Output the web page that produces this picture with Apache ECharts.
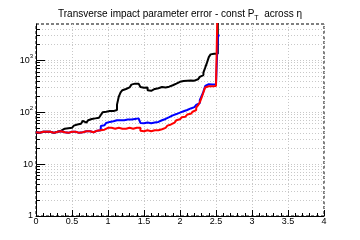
<!DOCTYPE html>
<html><head><meta charset="utf-8">
<script src="https://cdn.jsdelivr.net/npm/echarts@6/dist/echarts.min.js"></script>
<style>html,body{margin:0;padding:0;background:#fff}#c{width:360px;height:240px}</style>
</head><body><div id="c"></div>
<script>
const binWidth = 0.025;
const xTicks = [0, 0.5, 1, 1.5, 2, 2.5, 3, 3.5, 4];
const yMajor = [1, 10, 100, 1000];
const yMinor = [2,3,4,5,6,7,8,9,20,30,40,50,60,70,80,90,200,300,400,500,600,700,800,900,2000,3000,4000];

const redVals = [41,40,41,42,41,42,43,42,41,40,41,42,42,43,42,41,40,40,41,42,43,42,41,40,40,41,42,43,44,43,42,41,43,44,43,45,
  45,46,48,50,
  51,50,49,48,49,50,49,48,47,48,49,50,49,48,49,50,51,50,
  44,43,44,45,44,43,44,45,46,45,46,
  47,49,50,52,55,58,60,63,67,70,73,77,80,82,86,90,93,97,102,110,122,135,155,190,240,300,315,318,315,318,320,318,
  20000];
const blueVals = [41,40,41,42,41,42,43,42,41,40,41,42,42,43,42,41,40,40,41,42,43,42,41,40,40,41,42,43,44,43,42,41,43,44,43,45,
  54,56,60,62,65,
  66,67,68,70,69,70,71,70,71,72,73,72,73,74,75,76,76,
  62,61,62,63,62,61,62,63,64,65,67,
  70,72,74,76,80,84,87,89,92,95,98,101,104,107,110,114,118,121,125,130,138,150,170,205,250,320,345,345,340,345,340,335,
  3000];
const blackVals = [41,40,41,42,41,42,43,42,41,40,41,42,42,
  44,46,48,47,49,48,50,52,55,58,62,60,64,68,63,66,70,74,72,76,79,78,82,88,100,102,104,105,106,105,106,110,
  140,200,240,265,280,290,300,320,340,355,350,355,345,
  305,295,290,300,265,258,262,280,285,290,300,305,310,300,315,310,320,330,325,
  355,370,385,410,400,395,405,420,410,415,405,410,430,455,480,520,580,720,900,1150,1300,1340,1340,1330,
  8000];

function hist(vals){
  const pts = vals.map((v,i)=>[+(i*binWidth).toFixed(4), v]);
  pts.push([+(vals.length*binWidth).toFixed(4), vals[vals.length-1]]);
  return pts;
}

const FONT = 'Liberation Sans';
const chart = echarts.init(document.getElementById('c'), null, {renderer:'canvas'});
const gridLine = {show:true, lineStyle:{color:'#c8c8c8', type:[1,2], width:1}};
function lineSeries(name, vals, color){
  return {name, type:'line', step:'end', data:hist(vals), symbol:'none', clip:true,
    lineStyle:{color, width:2}, itemStyle:{color}, animation:false};
}
chart.setOption({
  animation:false,
  title:{text:'Transverse impact parameter error - const P{sub|T}  across η', left:'center', top:2,
    textStyle:{fontFamily:FONT, fontSize:10, fontWeight:'normal', color:'#000',
      rich:{sub:{fontFamily:FONT, fontSize:7, color:'#000', padding:[8,0,0,0]}}}},
  grid:{left:36, right:36, top:24, bottom:24, show:true, borderColor:'#000', borderWidth:1, borderType:[3,2], backgroundColor:'transparent'},
  xAxis:{type:'value', min:0, max:4, interval:0.5,
    axisLine:{show:true, onZero:false, lineStyle:{color:'#000', width:1}},
    axisTick:{show:true, inside:true, length:6, lineStyle:{color:'#000'}},
    minorTick:{show:true, splitNumber:5, length:3, lineStyle:{color:'#000'}},
    axisLabel:{fontFamily:FONT, fontSize:9, color:'#000', margin:1,
      formatter: v => xTicks.includes(v) ? String(v) : ''},
    splitLine:gridLine},
  yAxis:[
    {type:'log', logBase:10, min:1, max:5000,
     axisLine:{show:true, lineStyle:{color:'#000', width:1}},
     axisTick:{show:true, inside:true, length:9, customValues:yMajor, lineStyle:{color:'#000'}},
     axisLabel:{fontFamily:FONT, fontSize:9, color:'#000', margin:3, customValues:yMajor,
       formatter: v => { const e = Math.round(Math.log10(v)); if (e===0) return '1'; if (e===1) return '10'; return '10{sup|'+e+'}'; },
       rich:{sup:{fontFamily:FONT, fontSize:6, color:'#000', padding:[0,0,7,0]}}},
     splitLine:gridLine},
    {type:'log', logBase:10, min:1, max:5000, position:'left',
     axisLine:{show:false},
     axisTick:{show:true, inside:true, length:4, customValues:yMinor, lineStyle:{color:'#000'}},
     axisLabel:{show:false},
     splitLine:gridLine}
  ],
  series:[
    lineSeries('black', blackVals, '#000000'),
    lineSeries('blue', blueVals, '#0000ff'),
    lineSeries('red', redVals, '#ff0000')
  ]
});
</script></body></html>
